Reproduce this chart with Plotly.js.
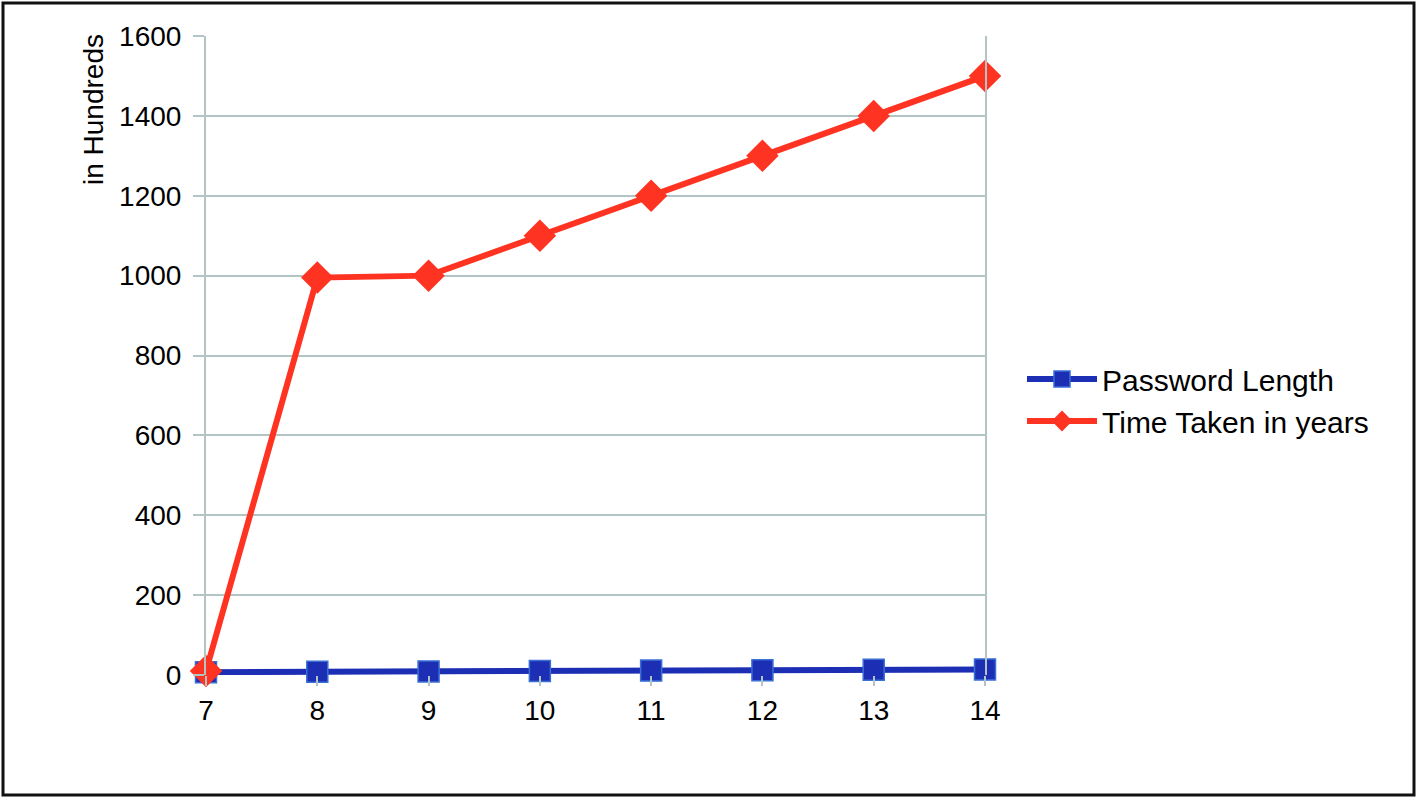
<!DOCTYPE html>
<html>
<head>
<meta charset="utf-8">
<script src="https://cdn.plot.ly/plotly-3.0.1.min.js"></script>
<style>
html,body{margin:0;padding:0;background:#fff;}
#chart{width:1418px;height:800px;}
</style>
</head>
<body>
<div id="chart"></div>
<script>
// Data
const passwordLengths = [7, 8, 9, 10, 11, 12, 13, 14];
const passwordLengthSeries = [7, 8, 9, 10, 11, 12, 13, 14];
const timeTakenYears = [10, 995, 1000, 1100, 1200, 1300, 1400, 1500];
const seriesNames = ["Password Length", "Time Taken in years"];
const yTickValues = [0, 200, 400, 600, 800, 1000, 1200, 1400, 1600];
const yAxisTitle = "in Hundreds";

const W = 1418, H = 800;
const L = 206, R = 985, T = 36, B = 675;
const pw = R - L, ph = B - T;
const px = v => (v - L) / pw;
const py = v => (B - v) / ph;

const traces = [
  {
    x: passwordLengths, y: passwordLengthSeries, name: seriesNames[0],
    type: 'scatter', mode: 'lines+markers', cliponaxis: false,
    line: {color: '#1c2fb4', width: 6},
    marker: {symbol: 'square', size: 21, color: '#1c2fb4', line: {color: '#3a6fd6', width: 1.5}}
  },
  {
    x: passwordLengths, y: timeTakenYears, name: seriesNames[1],
    type: 'scatter', mode: 'lines+markers', cliponaxis: false,
    line: {color: '#ff3322', width: 6},
    marker: {symbol: 'diamond', size: 25, color: '#ff3322'}
  }
];

const font = {family: '"Liberation Sans", Arial, sans-serif', color: '#000'};

const layout = {
  width: W, height: H,
  margin: {l: L, r: W - R, t: T, b: H - B, pad: 0},
  paper_bgcolor: '#ffffff', plot_bgcolor: '#ffffff',
  font: font,
  showlegend: true,
  xaxis: {
    range: [7, 14], tickvals: passwordLengths, ticktext: passwordLengths.map(String),
    showgrid: false, zeroline: false, showline: false,
    ticks: 'outside', ticklen: 10, tickcolor: '#b3c4c4', tickwidth: 2,
    tickfont: {family: font.family, size: 28, color: '#000'},
    fixedrange: true
  },
  yaxis: {
    range: [0, 1600], tickvals: yTickValues, ticktext: yTickValues.map(String),
    showgrid: true, gridcolor: '#b3c4c4', gridwidth: 2,
    zeroline: false, showline: true, linecolor: '#b3c4c4', linewidth: 2, mirror: true,
    ticks: 'outside', ticklen: 11, tickcolor: '#b3c4c4', tickwidth: 2,
    ticklabelstandoff: 6,
    tickfont: {family: font.family, size: 28, color: '#000'},
    fixedrange: true
  },
  legend: {
    x: px(1022), xanchor: 'left', y: py(400), yanchor: 'middle',
    font: {family: font.family, size: 30, color: '#000'},
    bgcolor: 'rgba(0,0,0,0)', itemwidth: 70, tracegroupgap: 0
  },
  annotations: [{
    text: yAxisTitle, xref: 'paper', yref: 'paper',
    x: px(93), y: py(110), xanchor: 'center', yanchor: 'middle',
    textangle: -90, showarrow: false,
    font: {family: font.family, size: 28, color: '#000'}
  }],
  shapes: [{
    type: 'rect', xref: 'paper', yref: 'paper', layer: 'above',
    x0: px(3), x1: px(1414), y0: py(795), y1: py(3),
    line: {color: '#111', width: 3}
  }]
};

Plotly.newPlot('chart', traces, layout, {displayModeBar: false, staticPlot: true});
</script>
</body>
</html>
